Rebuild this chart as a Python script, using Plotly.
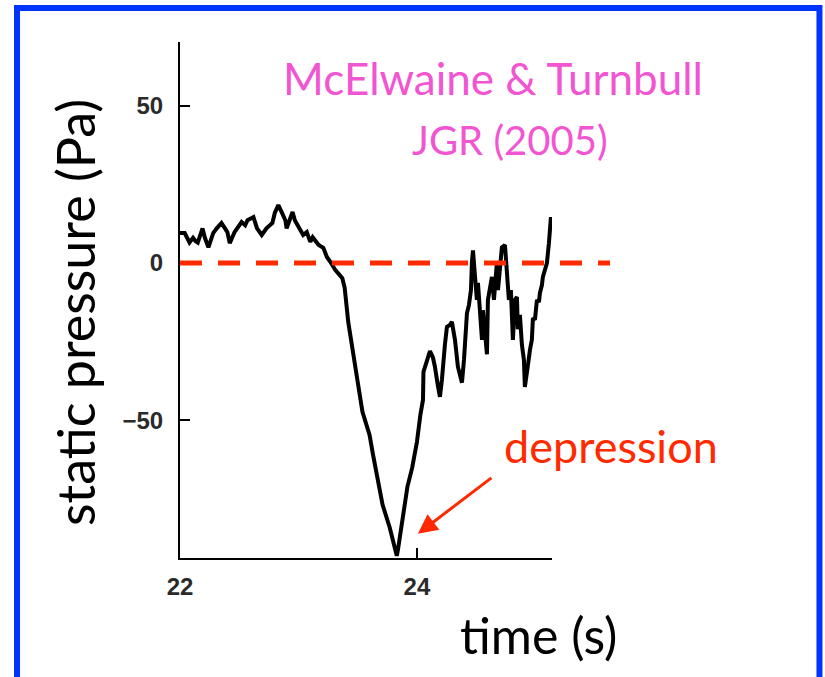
import plotly.graph_objects as go

# time (s) and static pressure (Pa)
time_s = [22.00, 22.04, 22.08, 22.11, 22.13, 22.15, 22.19, 22.21, 22.24, 22.28, 22.31, 22.35,
          22.38, 22.40, 22.42, 22.46, 22.52, 22.55, 22.57, 22.62, 22.65, 22.69, 22.73,
          22.78, 22.80, 22.83, 22.86, 22.89, 22.90, 22.95, 22.97, 23.01, 23.04, 23.07,
          23.10, 23.12, 23.17, 23.21, 23.24, 23.27, 23.31, 23.37, 23.39, 23.42, 23.46,
          23.50, 23.54, 23.60, 23.63, 23.67, 23.71, 23.77, 23.81, 23.83, 23.84, 23.87,
          23.92, 23.96, 24.00, 24.03, 24.051, 24.055, 24.084, 24.110, 24.135, 24.152,
          24.177, 24.194, 24.211, 24.219, 24.236, 24.253, 24.278, 24.295, 24.321, 24.346,
          24.363, 24.380, 24.397, 24.405, 24.422, 24.439, 24.447, 24.456, 24.464, 24.473,
          24.489, 24.506, 24.515, 24.532, 24.549, 24.557, 24.574, 24.591, 24.599, 24.616,
          24.633, 24.650, 24.675, 24.684, 24.700, 24.717, 24.743, 24.759, 24.776, 24.793,
          24.810, 24.827, 24.844, 24.852, 24.869, 24.886, 24.903, 24.911, 24.928, 24.937,
          24.954, 24.970, 24.979, 24.996, 25.013, 25.030, 25.038, 25.055, 25.063, 25.080,
          25.097, 25.114, 25.131]
pressure_pa = [9.5, 9.5, 6.5, 8.0, 7.0, 6.5, 11.0, 8.0, 5.0, 9.5, 11.0, 12.7,
               11.0, 9.8, 6.3, 9.8, 13.0, 12.0, 13.6, 14.6, 11.0, 8.9, 11.0,
               12.7, 15.9, 18.4, 16.0, 13.5, 11.0, 16.2, 13.5, 10.5, 8.9, 9.8,
               6.7, 8.2, 5.7, 4.8, 1.9, 0.3, -2.2, -4.8, -7.9, -18.7, -29.0,
               -37.8, -47.3, -54.6, -61.0, -69.5, -76.8, -84.0, -90.5, -93.0, -91.0, -84.0,
               -71.0, -65.0, -56.8, -48.0, -43.5, -34.6, -31.4, -28.0, -30.0, -33.0,
               -39.0, -42.5, -37.0, -31.7, -26.0, -20.3, -19.7, -18.7, -24.4, -33.0,
               -35.6, -38.0, -30.8, -24.4, -16.0, -13.3, -11.7, -8.6, 0.3, 4.0,
               -3.8, -11.7, -6.3, -18.0, -24.4, -15.0, -21.0, -29.0, -11.7, -8.6,
               -4.4, -11.7, 0.3, -8.6, -0.6, 5.0, 5.7, -3.8, -11.7, -8.6,
               -24.4, -11.7, -10.8, -21.0, -16.5, -26.0, -30.8, -39.4, -35.6, -32.4,
               -27.6, -24.4, -17.5, -18.0, -11.7, -12.4, -9.5, -7.0, -4.4, -2.2,
               0.0, 6.3, 14.6]

x_ticks = [22, 24]
y_ticks = [-50, 0, 50]
x_range = [22.0, 25.14]
y_range = [-93.7, 70.2]

MAGENTA = "#f255d2"
RED = "#ff2a00"
BLUE = "#0033ff"

fig = go.Figure()
fig.add_trace(go.Scatter(x=time_s, y=pressure_pa, mode="lines",
                         line=dict(color="black", width=4), showlegend=False,
                         hoverinfo="skip"))

axis_common = dict(showline=True, linecolor="black", linewidth=2, ticks="inside",
                   ticklen=10, tickwidth=1.5, tickcolor="black", showgrid=False,
                   zeroline=False, mirror=False,
                   tickfont=dict(family="Liberation Sans", size=24, color="#2a2a2a",
                                 weight="bold"))

fig.update_xaxes(range=x_range, tickvals=x_ticks, ticktext=[str(v) for v in x_ticks],
                 ticklabelstandoff=6, **axis_common)
fig.update_yaxes(range=y_range, tickvals=y_ticks, ticklabelstandoff=10, **axis_common)

# zero reference line (dashed red), extending past the plot on the right
fig.add_shape(type="line", xref="paper", yref="y", x0=0, x1=1.156, y0=0, y1=0,
              line=dict(color=RED, width=5, dash="22px,16px"), layer="above")

# blue frame
fig.add_shape(type="rect", xref="paper", yref="paper", x0=-0.4382, x1=1.719,
              y0=-0.26, y1=1.0659, line=dict(color=BLUE, width=6),
              fillcolor="rgba(0,0,0,0)", layer="above")

title_font = "Lato, 'Open Sans', sans-serif"
common_ann = dict(xref="paper", yref="paper", showarrow=False,
                  xanchor="center", yanchor="middle")
fig.add_annotation(text="static pressure (Pa)", x=-0.2823, y=0.4767, textangle=-90,
                   font=dict(family=title_font, size=52, color="black"), **common_ann)
fig.add_annotation(text="time (s)", x=0.965, y=-0.1492,
                   font=dict(family=title_font, size=50, color="black"), **common_ann)
fig.add_annotation(text="McElwaine & Turnbull", x=0.8414, y=0.9302,
                   font=dict(family=title_font, size=44, color=MAGENTA), **common_ann)
fig.add_annotation(text="JGR (2005)", x=0.8871, y=0.8101,
                   font=dict(family=title_font, size=40, color=MAGENTA), **common_ann)
fig.add_annotation(text="depression", x=1.1586, y=0.2171,
                   font=dict(family=title_font, size=45, color=RED), **common_ann)
fig.add_annotation(text="", x=24.008, y=-86, xref="x", yref="y",
                   ax=75, ay=-57, axref="pixel", ayref="pixel",
                   showarrow=True, arrowhead=2, arrowsize=1.3, arrowwidth=3,
                   arrowcolor=RED)

fig.update_layout(width=825, height=677, autosize=False,
                  margin=dict(l=180, r=273, t=42, b=119),
                  paper_bgcolor="white", plot_bgcolor="white", showlegend=False)

fig.write_html("out.html")
